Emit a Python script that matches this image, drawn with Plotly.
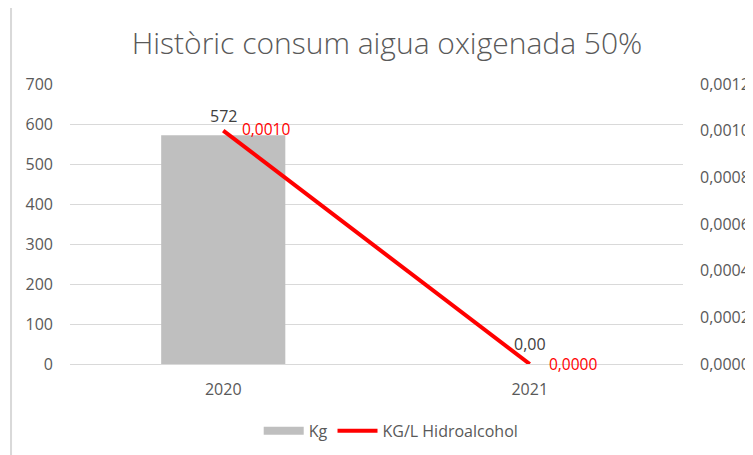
import plotly.graph_objects as go

# --- Data ---
years = ['2020', '2021']
kg = [572, 0]
kg_per_l = [0.0010, 0.0000]

grey_txt = '#595959'
font_family = 'Open Sans'

# bar labels: integer when non-zero, "0,00" for the empty year (as in Excel)
kg_text = [f'{v:d}' if v else '0,00' for v in kg]
ratio_text = [f'{v:.4f}'.replace('.', ',') for v in kg_per_l]

fig = go.Figure()

fig.add_trace(go.Bar(
    x=years, y=kg, name='Kg', showlegend=False,
    marker=dict(color='#bfbfbf', line=dict(width=0)),
    width=0.405,
))
# legend-only entry so the Kg key is a wide grey block like in Excel
fig.add_trace(go.Scatter(
    x=[None], y=[None], name='Kg', mode='lines',
    line=dict(color='#bfbfbf', width=8),
))
fig.add_trace(go.Scatter(
    x=years, y=kg_per_l, name='KG/L Hidroalcohol', yaxis='y2',
    mode='lines',
    line=dict(color='#ff0000', width=4),
))

# data labels, placed like Excel does them
ann = []
for i, (v, t) in enumerate(zip(kg, kg_text)):
    ann.append(dict(x=i, y=v, xref='x', yref='y', text=t, showarrow=False,
                    yshift=19 if v else 20, xanchor='center', yanchor='middle',
                    font=dict(size=16, color='#404040')))
for i, (v, t) in enumerate(zip(kg_per_l, ratio_text)):
    ann.append(dict(x=i, y=v, xref='x', yref='y2', text=t, showarrow=False,
                    xshift=17, yshift=2 if i == 0 else 0,
                    xanchor='left', yanchor='middle',
                    font=dict(size=15.5, color='#ff0000')))

# page body keeps its 8px default margin, so the figure is 8px smaller
W, H = 745, 447
fig.update_layout(
    width=W, height=H,
    margin=dict(l=62, r=70, t=76, b=91, autoexpand=False),
    paper_bgcolor='white', plot_bgcolor='white',
    font=dict(family=font_family, size=16, color=grey_txt),
    title=dict(
        text='Històric consum aigua oxigenada 50%',
        x=379 / W, xanchor='center', xref='container',
        y=1 - 35 / H, yanchor='middle', yref='container',
        font=dict(family='Open Sans', size=30, color=grey_txt, weight=300),
    ),
    xaxis=dict(
        type='category', categoryorder='array', categoryarray=years,
        showgrid=False, showline=False, ticks='', automargin=False,
        ticklabelstandoff=14, tickfont=dict(size=16, color=grey_txt),
    ),
    yaxis=dict(
        range=[0, 700], dtick=100, showgrid=True, gridcolor='#d9d9d9', gridwidth=1,
        zeroline=True, zerolinecolor='#d9d9d9', zerolinewidth=1,
        showline=False, ticks='', ticklabelstandoff=16, automargin=False,
        tickfont=dict(size=16, color=grey_txt),
    ),
    yaxis2=dict(
        overlaying='y', side='right', range=[0, 0.0012], dtick=0.0002,
        tickformat='.4f', showgrid=False, zeroline=False, showline=False,
        ticks='', ticklabelstandoff=16, automargin=False,
        tickfont=dict(size=16, color=grey_txt),
    ),
    separators=',.',
    showlegend=True,
    legend=dict(
        orientation='h', x=0.524, xanchor='center', y=-0.239, yanchor='middle',
        font=dict(size=16, color=grey_txt), itemwidth=40,
        traceorder='normal',
    ),
    annotations=ann,
    shapes=[dict(
        type='rect', xref='paper', yref='paper',
        x0=-0.0962, x1=1.3, y0=-0.5, y1=1.2786,
        line=dict(color='#d9d9d9', width=2), fillcolor='rgba(0,0,0,0)',
        layer='below',
    )],
)

fig.write_html('out.html')
